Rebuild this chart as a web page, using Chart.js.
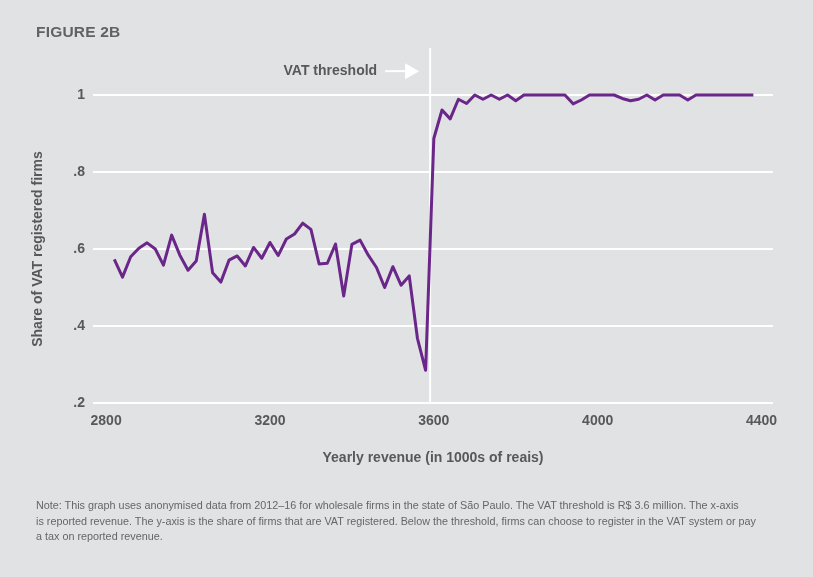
<!DOCTYPE html>
<html>
<head>
<meta charset="utf-8">
<script src="https://cdn.jsdelivr.net/npm/chart.js@4.4.1/dist/chart.umd.min.js"></script>
<style>
  html, body { margin: 0; padding: 0; background: #e1e2e4; }
  #wrap { position: relative; width: 813px; height: 577px; overflow: hidden; }
  #chart { position: absolute; left: 0; top: 0; width: 813px; height: 577px; }
  .fig-title {
    position: absolute; left: 36px; top: 23px;
    font: bold 15.5px "Liberation Sans", Arial, sans-serif;
    color: #626262; letter-spacing: 0.2px;
  }
  .note {
    position: absolute; left: 36px; top: 498px; width: 770px;
    font: 10.8px/15.5px "Liberation Sans", Arial, sans-serif;
    color: #666;
  }
</style>
</head>
<body>
<div id="wrap">
  <canvas id="chart"></canvas>
  <div class="fig-title">FIGURE 2B</div>
  <div class="note">Note: This graph uses anonymised data from 2012–16 for wholesale firms in the state of São Paulo. The VAT threshold is R$ 3.6 million. The x-axis<br>is reported revenue. The y-axis is the share of firms that are VAT registered. Below the threshold, firms can choose to register in the VAT system or pay<br>a tax on reported revenue.</div>
</div>
<script>
// revenue bins (1000s of reais)
const revenue = [
  2820, 2840, 2860, 2880, 2900, 2920, 2940, 2960, 2980, 3000,
  3020, 3040, 3060, 3080, 3100, 3120, 3140, 3160, 3180, 3200,
  3220, 3240, 3260, 3280, 3300, 3320, 3340, 3360, 3380, 3400,
  3420, 3440, 3460, 3480, 3500, 3520, 3540, 3560, 3580, 3600,
  3620, 3640, 3660, 3680, 3700, 3720, 3740, 3760, 3780, 3800,
  3820, 3840, 3860, 3880, 3900, 3920, 3940, 3960, 3980, 4000,
  4020, 4040, 4060, 4080, 4100, 4120, 4140, 4160, 4180, 4200,
  4220, 4240, 4260, 4280, 4300, 4320, 4340, 4360, 4380
];

// share of VAT registered firms
const share = [
  0.573, 0.527, 0.580, 0.602, 0.616, 0.600, 0.558, 0.636, 0.584, 0.545,
  0.569, 0.690, 0.538, 0.514, 0.571, 0.582, 0.556, 0.604, 0.576, 0.617,
  0.583, 0.626, 0.639, 0.667, 0.651, 0.561, 0.563, 0.613, 0.478, 0.612,
  0.623, 0.584, 0.552, 0.500, 0.554, 0.506, 0.530, 0.368, 0.285, 0.887,
  0.961, 0.938, 0.989, 0.978, 1.000, 0.989, 1.000, 0.989, 1.000, 0.985,
  1.000, 1.000, 1.000, 1.000, 1.000, 1.000, 0.977, 0.987, 1.000, 1.000,
  1.000, 1.000, 0.991, 0.985, 0.989, 1.000, 0.987, 1.000, 1.000, 1.000,
  0.987, 1.000, 1.000, 1.000, 1.000, 1.000, 1.000, 1.000, 1.000
];

const xTicks = [2800, 3200, 3600, 4000, 4400];
const yTicks = [0.2, 0.4, 0.6, 0.8, 1];
const yTickLabels = ['.2', '.4', '.6', '.8', '1'];

const thresholdX = 3591;
const thresholdTopY = 1.122;
const thresholdLabel = 'VAT threshold';
const thresholdLabelY = 1.062;

const textColor = '#585858';
const fontFamily = '"Liberation Sans", Arial, sans-serif';

const thresholdPlugin = {
  id: 'threshold',
  beforeDatasetsDraw(chart) {
    const { ctx, chartArea, scales } = chart;
    const x = scales.x.getPixelForValue(thresholdX);
    const y = scales.y.getPixelForValue(thresholdLabelY);
    ctx.save();
    ctx.strokeStyle = '#ffffff';
    ctx.lineWidth = 2;
    ctx.beginPath();
    ctx.moveTo(x, scales.y.getPixelForValue(thresholdTopY));
    ctx.lineTo(x, chartArea.bottom);
    ctx.stroke();

    // arrow pointing at the line
    ctx.beginPath();
    ctx.moveTo(x - 45, y);
    ctx.lineTo(x - 24, y);
    ctx.stroke();
    ctx.fillStyle = '#ffffff';
    ctx.beginPath();
    ctx.moveTo(x - 25, y - 8);
    ctx.lineTo(x - 11, y);
    ctx.lineTo(x - 25, y + 8);
    ctx.closePath();
    ctx.fill();

    ctx.fillStyle = textColor;
    ctx.font = 'bold 14px ' + fontFamily;
    ctx.textAlign = 'right';
    ctx.textBaseline = 'middle';
    ctx.fillText(thresholdLabel, x - 53, y);
    ctx.restore();
  }
};

new Chart(document.getElementById('chart'), {
  type: 'line',
  data: {
    datasets: [{
      data: revenue.map((r, i) => ({ x: r, y: share[i] })),
      borderColor: '#6a2689',
      borderWidth: 3,
      borderJoinStyle: 'round',
      pointRadius: 0,
      tension: 0,
      fill: false,
      clip: false,
    }],
  },
  options: {
    responsive: true,
    maintainAspectRatio: false,
    animation: false,
    layout: {
      padding: { left: 0, right: 40, top: 95, bottom: 104 },
    },
    plugins: {
      legend: { display: false },
      title: { display: false },
      tooltip: { enabled: false },
    },
    scales: {
      x: {
        type: 'linear',
        min: 2768,
        max: 4428,
        afterBuildTicks: (scale) => {
          scale.ticks = xTicks.map(v => ({ value: v }));
        },
        afterFit: (scale) => { scale.height = 70; },
        grid: { display: false, drawTicks: false },
        border: { display: false },
        ticks: {
          padding: 9.6,
          color: textColor,
          font: { family: fontFamily, size: 14, weight: 'bold' },
          callback: (v) => String(v),
        },
        title: {
          display: true,
          text: 'Yearly revenue (in 1000s of reais)',
          color: textColor,
          font: { family: fontFamily, size: 14, weight: 'bold' },
          padding: { top: 0, bottom: 6.6 },
        },
      },
      y: {
        min: 0.2,
        max: 1,
        afterBuildTicks: (scale) => {
          scale.ticks = yTicks.map(v => ({ value: v }));
        },
        afterFit: (scale) => { scale.width = 93; },
        grid: { color: '#ffffff', lineWidth: 2, drawTicks: false },
        border: { display: false },
        ticks: {
          padding: 8,
          color: textColor,
          font: { family: fontFamily, size: 14, weight: 'bold' },
          callback: (v, i) => yTickLabels[i],
        },
        title: {
          display: true,
          text: 'Share of VAT registered firms',
          color: textColor,
          font: { family: fontFamily, size: 14, weight: 'bold' },
          padding: { top: 29.6, bottom: 0 },
        },
      },
    },
  },
  plugins: [thresholdPlugin],
});
</script>
</body>
</html>
